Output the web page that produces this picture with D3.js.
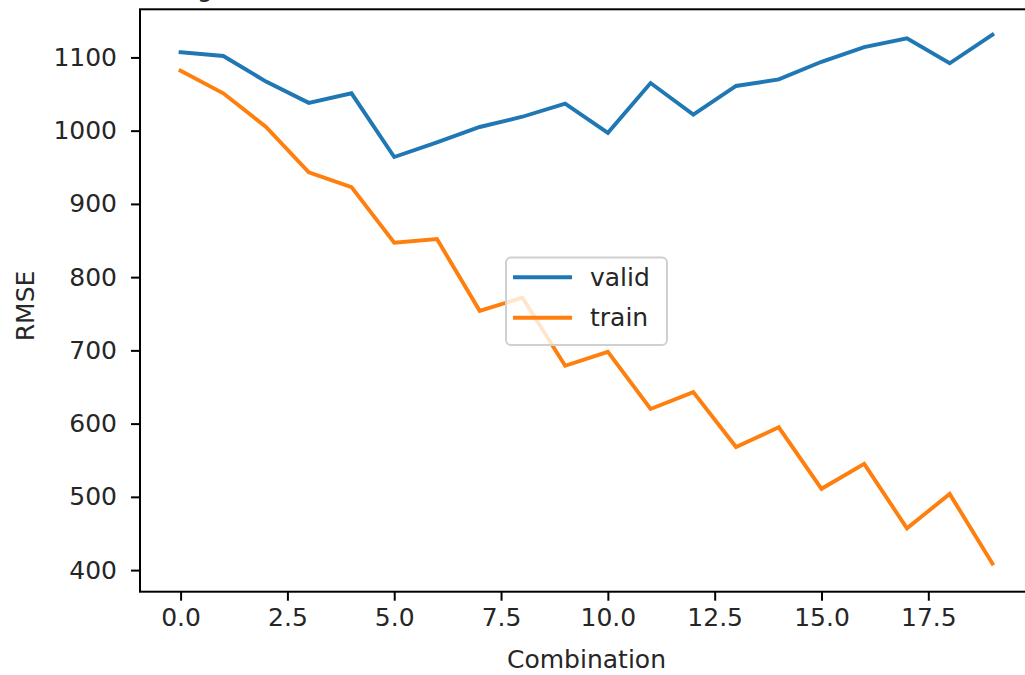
<!DOCTYPE html>
<html>
<head>
<meta charset="utf-8">
<script src="https://cdn.jsdelivr.net/npm/d3@7"></script>
<style>
  html, body { margin: 0; padding: 0; background: #fff; }
  svg { display: block; }
  text { font-family: "DejaVu Sans", sans-serif; fill: #262626; }
</style>
</head>
<body>
<svg id="chart" width="1025" height="675"></svg>
<script>
// ---- data ----
const combinations = [0,1,2,3,4,5,6,7,8,9,10,11,12,13,14,15,16,17,18,19];
const validRMSE = [1107,1102,1067,1038,1051,964,984,1005,1019,1037,997,1065,1022,1061,1070,1094,1114,1126,1092,1131];
const trainRMSE = [1082,1051,1005,943,923,847,852,754,772,679,698,620,643,568,595,511,545,457,504,409];
const xTicks = [0,2.5,5,7.5,10,12.5,15,17.5];
const yTicks = [400,500,600,700,800,900,1000,1100];
const seriesNames = ["valid","train"];
const seriesColors = ["#1f77b4","#ff7f0e"];

// ---- layout ----
const plotLeft = 140, plotRight = 1033, plotTop = 9.3, plotBottom = 591.7;
const fs = 25;

const svg = d3.select("#chart");
const x = d3.scaleLinear().domain([-0.95, 19.95]).range([plotLeft, plotRight]);
const y = d3.scaleLinear().domain([370.5, 1165.7]).range([plotBottom, plotTop]);

// partially visible title glyph (cropped at top, as in the reference)
svg.append("text").attr("x", 205).attr("y", -3).attr("text-anchor", "middle")
  .style("font-size", fs + "px").text("g");

// lines
const line = d3.line().x((d, i) => x(combinations[i])).y(d => y(d));
[validRMSE, trainRMSE].forEach((s, k) => {
  svg.append("path").datum(s)
    .attr("fill", "none")
    .attr("stroke", seriesColors[k])
    .attr("stroke-width", 3.9)
    .attr("stroke-linejoin", "miter")
    .attr("stroke-linecap", "square")
    .attr("d", line);
});

// axes
const xAxis = d3.axisBottom(x).tickValues(xTicks).tickFormat(d3.format(".1f")).tickSize(9).tickPadding(8);
const yAxis = d3.axisLeft(y).tickValues(yTicks).tickFormat(d3.format("d")).tickSize(9).tickPadding(14);

const gx = svg.append("g").attr("transform", `translate(0,${plotBottom})`).call(xAxis);
const gy = svg.append("g").attr("transform", `translate(${plotLeft},0)`).call(yAxis);
[gx, gy].forEach(g => {
  g.select(".domain").remove();
  g.selectAll(".tick line").attr("stroke", "#000").attr("stroke-width", 2);
  g.selectAll(".tick text").style("font-size", fs + "px").style("font-family", "DejaVu Sans").attr("fill", "#262626");
});

// spines
svg.append("rect").attr("x", plotLeft).attr("y", plotTop)
  .attr("width", plotRight - plotLeft).attr("height", plotBottom - plotTop)
  .attr("fill", "none").attr("stroke", "#000").attr("stroke-width", 2);

// axis labels
svg.append("text").attr("x", (plotLeft + plotRight) / 2).attr("y", 668)
  .attr("text-anchor", "middle").style("font-size", fs + "px").text("Combination");
svg.append("text")
  .attr("transform", `translate(34,306) rotate(-90)`)
  .attr("text-anchor", "middle").style("font-size", fs + "px").text("RMSE");

// legend
const lg = svg.append("g");
lg.append("rect").attr("x", 506).attr("y", 257.5).attr("width", 161).attr("height", 87.5)
  .attr("rx", 5).attr("fill", "#fff").attr("fill-opacity", 0.8)
  .attr("stroke", "#d0d0d0").attr("stroke-width", 2);
const legY = [277.3, 317.7];
seriesNames.forEach((n, k) => {
  lg.append("line").attr("x1", 513).attr("x2", 572).attr("y1", legY[k]).attr("y2", legY[k])
    .attr("stroke", seriesColors[k]).attr("stroke-width", 3.9);
  lg.append("text").attr("x", 590).attr("y", legY[k]).attr("dy", "0.35em")
    .style("font-size", fs + "px").text(n);
});
</script>
</body>
</html>
